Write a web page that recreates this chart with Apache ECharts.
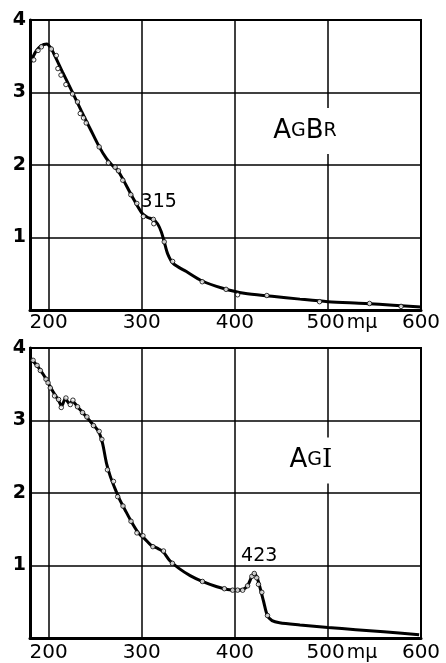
<!DOCTYPE html>
<html>
<head>
<meta charset="utf-8">
<script src="https://cdn.jsdelivr.net/npm/echarts@6/dist/echarts.min.js"></script>
<style>html,body{margin:0;padding:0;background:#fff}#c{width:446px;height:663px}</style>
</head>
<body>
<div id="c"></div>
<script>
// ---- data ----
const xTicks = [200, 300, 400, 500, 600];
const yTicks = [1, 2, 3, 4];
const unitLabel = 'mμ';
const gridX = [200, 300, 400, 500];

// AgBr: smooth curve trace and measured points (wavelength mμ, optical density)
const agbrCurve = [[181,3.42],[186,3.56],[192,3.645],[198,3.67],[203,3.60],[208,3.47],[215,3.28],[225,3.02],[235,2.75],[245,2.49],[254,2.26],[262,2.09],[268,2.00],[274,1.93],[280,1.80],[290,1.56],[300,1.34],[306,1.28],[312,1.25],[317,1.19],[321,1.08],[324,0.95],[328,0.77],[334,0.64],[348,0.53],[365,0.40],[387,0.30],[410,0.23],[440,0.19],[470,0.15],[500,0.115],[540,0.09],[570,0.065],[600,0.04]];
const agbrPoints = [[184,3.45],[188.6,3.58],[192.2,3.63],[202.9,3.60],[208.2,3.51],[210,3.33],[213.3,3.24],[218.6,3.11],[225.7,2.98],[231,2.87],[234,2.71],[237.5,2.65],[240.4,2.58],[254.3,2.25],[264.2,2.03],[271.4,1.97],[275,1.92],[279.7,1.79],[288.3,1.59],[294.7,1.47],[301.8,1.29],[312.5,1.25],[313,1.19],[324.2,0.94],[333.2,0.67],[365,0.39],[390.6,0.285],[403,0.21],[434.4,0.20],[491,0.115],[544.7,0.09],[578.6,0.05]];
const agbrPeak = [315, 1.25];

// AgI
const agiCurve = [[181,3.85],[188,3.75],[195,3.62],[202,3.46],[208,3.33],[211,3.27],[214,3.20],[218,3.30],[222,3.24],[226,3.26],[231,3.19],[240,3.06],[248,2.94],[254,2.84],[258,2.68],[262,2.42],[266,2.24],[271,2.07],[276,1.92],[282,1.77],[290,1.58],[297,1.44],[303,1.37],[310,1.28],[318,1.23],[323,1.19],[330,1.07],[340,0.96],[352,0.86],[365,0.78],[380,0.71],[392,0.67],[402,0.66],[409,0.67],[414,0.73],[418,0.84],[421,0.89],[424,0.83],[427,0.70],[431,0.50],[435,0.31],[440,0.24],[448,0.21],[470,0.18],[500,0.145],[530,0.115],[560,0.085],[598,0.045]];
const agiPoints = [[183.3,3.83],[187.6,3.76],[191.1,3.69],[197.2,3.57],[199.4,3.52],[201.8,3.45],[206.4,3.34],[210.7,3.29],[213.6,3.18],[218.6,3.31],[223.3,3.22],[226.1,3.28],[231,3.19],[236.4,3.11],[241.1,3.05],[248.2,2.93],[254.3,2.85],[257.2,2.74],[263.2,2.32],[269.6,2.16],[274.2,1.95],[279.9,1.82],[288.5,1.61],[294.9,1.45],[301.3,1.41],[312,1.26],[323.4,1.20],[333,1.03],[365.2,0.78],[388.8,0.68],[397.7,0.66],[403,0.66],[408.4,0.66],[413.7,0.72],[418.3,0.85],[420.9,0.89],[423.6,0.83],[425.4,0.74],[429,0.63],[435.1,0.31]];
const agiPeak = [423, 0.89];

const agbrNamePos = [475.4, 2.47];
const agiNamePos = [481.8, 2.45];

// ---- chart ----
const chart = echarts.init(document.getElementById('c'), null, {renderer: 'canvas'});
const FONT = 'DejaVu Sans';

function xAxis(gridIndex, margin) {
  return {
    type: 'value', gridIndex, min: 180, max: 600, interval: 20,
    axisLine: {show: true, lineStyle: {color: '#000', width: 3}},
    axisTick: {show: false},
    splitLine: {show: false},
    axisLabel: {
      margin, color: '#000', fontFamily: FONT, fontSize: 20,
      formatter: v => xTicks.includes(v) ? (v === 500 ? '{p|}500{u|' + unitLabel + '}' : String(v)) : '',
      rich: {p: {width: 28}, u: {fontFamily: FONT, fontSize: 19, color: '#000', padding: [0, 0, 0, 2]}}
    }
  };
}
function yAxis(gridIndex) {
  return {
    type: 'value', gridIndex, min: 0, max: 4, interval: 1,
    axisLine: {show: true, lineStyle: {color: '#000', width: 3}},
    axisTick: {show: false},
    splitLine: {show: true, lineStyle: {color: '#000', width: 1.5}},
    axisLabel: {
      margin: 4, color: '#000', fontFamily: FONT, fontSize: 19, fontWeight: 'bold',
      formatter: v => yTicks.includes(v) ? String(v) : ''
    }
  };
}
function gridLines() {
  return {
    silent: true, z: 1, symbol: ['none', 'none'], label: {show: false},
    lineStyle: {color: '#000', width: 1.5, type: 'solid'},
    data: gridX.map(x => ({xAxis: x}))
  };
}
function nameMark(pos, rich, text) {
  return {
    coord: pos, symbolSize: 0,
    label: {show: true, position: 'inside', formatter: text, backgroundColor: '#fff', padding: [10, 3], rich}
  };
}
const capRich = {
  b: {fontFamily: FONT, fontSize: 26, color: '#000'},
  s: {fontFamily: FONT, fontSize: 19, color: '#000'},
  i: {fontFamily: 'DejaVu Serif', fontSize: 26, color: '#000'}
};
function peakMark(pos, text) {
  return {
    coord: pos, symbolSize: 0,
    label: {show: true, position: 'inside', offset: [3, -17], formatter: text, fontFamily: FONT, fontSize: 19, color: '#000'}
  };
}

const option = {
  animation: false,
  backgroundColor: '#fff',
  grid: [
    {left: 30, right: 25, top: 20, height: 290, show: true, borderColor: '#000', borderWidth: 2, backgroundColor: 'transparent'},
    {left: 30, right: 25, top: 348, height: 291, show: true, borderColor: '#000', borderWidth: 2, backgroundColor: 'transparent'}
  ],
  xAxis: [xAxis(0, 3), xAxis(1, 5)],
  yAxis: [yAxis(0), yAxis(1)],
  series: [
    {
      type: 'line', xAxisIndex: 0, yAxisIndex: 0, data: agbrCurve, showSymbol: false,
      smooth: 0.3, z: 3,
      lineStyle: {color: '#000', width: 3},
      markLine: gridLines(),
      markPoint: {z: 10, data: [
        nameMark(agbrNamePos, capRich, '{b|A}{s|G}{b|B}{s|R}'),
        peakMark(agbrPeak, '315')
      ]}
    },
    {
      type: 'scatter', xAxisIndex: 0, yAxisIndex: 0, data: agbrPoints, symbol: 'circle', symbolSize: 4.5, z: 4,
      itemStyle: {color: '#fff', borderColor: '#000', borderWidth: 1}
    },
    {
      type: 'line', xAxisIndex: 1, yAxisIndex: 1, data: agiCurve, showSymbol: false,
      smooth: 0.3, z: 3,
      lineStyle: {color: '#000', width: 3},
      markLine: gridLines(),
      markPoint: {z: 10, data: [
        nameMark(agiNamePos, capRich, '{b|A}{s|G}{i|I}'),
        peakMark(agiPeak, '423')
      ]}
    },
    {
      type: 'scatter', xAxisIndex: 1, yAxisIndex: 1, data: agiPoints, symbol: 'circle', symbolSize: 4.5, z: 4,
      itemStyle: {color: '#fff', borderColor: '#000', borderWidth: 1}
    }
  ]
};
chart.setOption(option);
</script>
</body>
</html>
